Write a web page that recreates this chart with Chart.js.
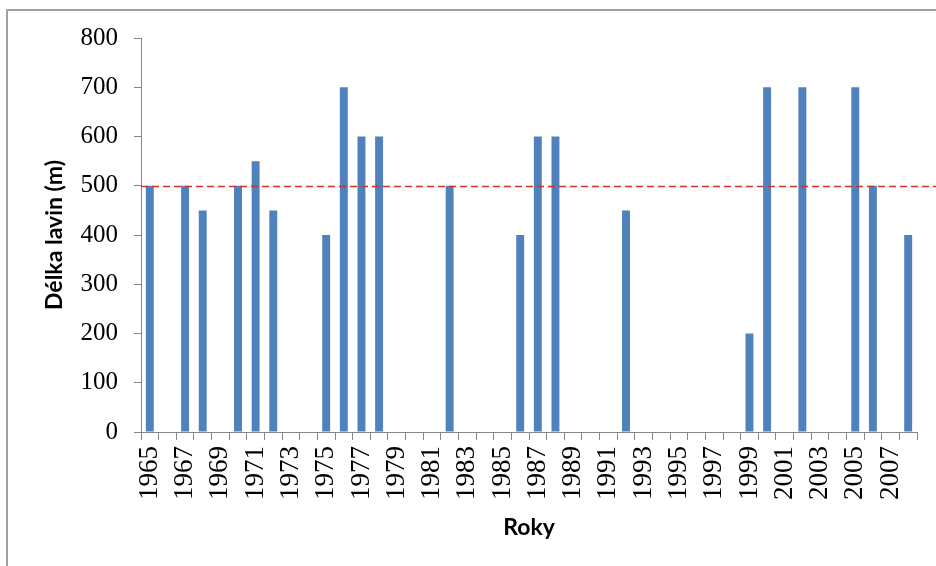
<!DOCTYPE html>
<html>
<head>
<meta charset="utf-8">
<script src="https://cdn.jsdelivr.net/npm/chart.js@4/dist/chart.umd.min.js"></script>
<style>
  html, body { margin: 0; padding: 0; background: #fff; }
  #wrap { width: 936px; height: 566px; }
</style>
</head>
<body>
<div id="wrap"><canvas id="c" width="936" height="566"></canvas></div>
<script>
// Avalanche run-out lengths per winter season
const years = [
  '1965','1966','1967','1968','1969','1970','1971','1972','1973','1974',
  '1975','1976','1977','1978','1979','1980','1981','1982','1983','1984',
  '1985','1986','1987','1988','1989','1990','1991','1992','1993','1994',
  '1995','1996','1997','1998','1999','2000','2001','2002','2003','2004',
  '2005','2006','2007','2008'
];
const lengths = [
  500, null, 500, 450, null, 500, 550, 450, null, null,
  400, 700, 600, 600, null, null, null, 500, null, null,
  null, 400, 600, 600, null, null, null, 450, null, null,
  null, null, null, null, 200, 700, null, 700, null, null,
  700, 500, null, 400
];
const yTicks = [0, 100, 200, 300, 400, 500, 600, 700, 800];
const limitValue = 500;

const axisGray = '#868686';
const yTickFont = { family: 'Liberation Serif', size: 25 };
const xTickFont = { family: 'Liberation Serif', size: 27 };
const titleFont = { family: 'Lato', weight: 'bold', size: 23 };

// white page, frame and the dashed 500 m reference line
const decor = {
  id: 'decor',
  beforeDraw(chart) {
    const ctx = chart.ctx;
    ctx.save();
    ctx.fillStyle = '#fff';
    ctx.fillRect(0, 0, chart.width, chart.height);
    ctx.strokeStyle = '#a0a0a0';
    ctx.lineWidth = 2;
    ctx.strokeRect(7, 10, chart.width + 20, chart.height + 20);
    ctx.restore();
  },
  afterDatasetsDraw(chart) {
    const ctx = chart.ctx;
    const y = Math.round(chart.scales.y.getPixelForValue(limitValue)) + 0.5;
    ctx.save();
    ctx.strokeStyle = '#d8312b';
    ctx.lineWidth = 1.5;
    ctx.setLineDash([7, 4]);
    ctx.beginPath();
    ctx.moveTo(chart.chartArea.left, y);
    ctx.lineTo(chart.width, y);
    ctx.stroke();
    ctx.restore();
  }
};

new Chart(document.getElementById('c'), {
  type: 'bar',
  data: {
    labels: years,
    datasets: [{
      data: lengths,
      backgroundColor: '#4f81bd',
      borderWidth: 0,
      barPercentage: 0.45,
      categoryPercentage: 1.0
    }]
  },
  options: {
    responsive: false,
    animation: false,
    devicePixelRatio: 1,
    layout: { padding: { left: 0, top: 38, right: 19, bottom: 0 } },
    plugins: { legend: { display: false }, tooltip: { enabled: false } },
    scales: {
      x: {
        offset: true,
        grid: { display: true, offset: true, drawOnChartArea: false, drawTicks: true, tickLength: 8, color: axisGray },
        border: { display: true, color: axisGray, width: 1 },
        ticks: {
          autoSkip: false,
          minRotation: 90,
          maxRotation: 90,
          padding: 6,
          color: '#000',
          font: xTickFont,
          callback: (v, i) => (i % 2 === 0 ? years[i] : '')
        },
        title: { display: true, text: 'Roky', color: '#000', font: titleFont, padding: { top: 0, bottom: 25 } },
        afterFit: (s) => { s.height = 134; s.paddingLeft = 0; s.paddingRight = 0; }
      },
      y: {
        min: yTicks[0],
        max: yTicks[yTicks.length - 1],
        afterBuildTicks: (s) => { s.ticks = yTicks.map(v => ({ value: v })); },
        grid: { display: true, drawOnChartArea: false, drawTicks: true, tickLength: 7, color: axisGray },
        border: { display: true, color: axisGray, width: 1 },
        ticks: { padding: 16, color: '#000', font: yTickFont },
        title: { display: true, text: 'Délka lavin (m)', color: '#000', font: titleFont, padding: { top: 41, bottom: 30 } },
        afterFit: (s) => { s.width = 141; }
      }
    }
  },
  plugins: [decor]
});
</script>
</body>
</html>
